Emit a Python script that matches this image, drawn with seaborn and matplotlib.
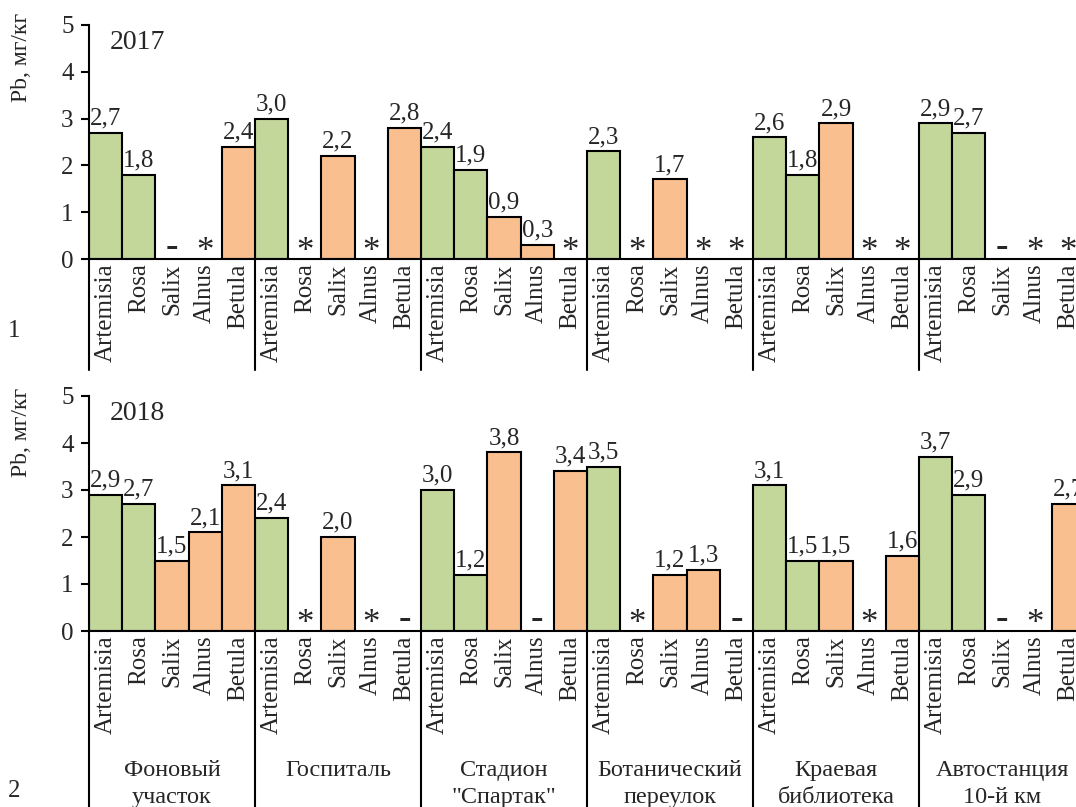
import matplotlib
matplotlib.use("Agg")
import matplotlib.pyplot as plt
import matplotlib.transforms as mtransforms
import numpy as np
import pandas as pd
import seaborn as sns

# Sampling sites and species
sites = ["Фоновый\nучасток", "Госпиталь", "Стадион\n\"Спартак\"",
         "Ботанический\nпереулок", "Краевая\nбиблиотека", "Автостанция\n10-й км"]
species = ["Artemisia", "Rosa", "Salix", "Alnus", "Betula"]
species_type = ["herb", "herb", "tree", "tree", "tree"]

# Pb content, mg/kg ('*' and '-' mark samples without a measured value)
pb_2017 = [2.7, 1.8, "-", "*", 2.4,
           3.0, "*", 2.2, "*", 2.8,
           2.4, 1.9, 0.9, 0.3, "*",
           2.3, "*", 1.7, "*", "*",
           2.6, 1.8, 2.9, "*", "*",
           2.9, 2.7, "-", "*", "*"]
pb_2018 = [2.9, 2.7, 1.5, 2.1, 3.1,
           2.4, "*", 2.0, "*", "-",
           3.0, 1.2, 3.8, "-", 3.4,
           3.5, "*", 1.2, 1.3, "-",
           3.1, 1.5, 1.5, "*", 1.6,
           3.7, 2.9, "-", "*", 2.7]

years = ["2017", "2018"]
panel_numbers = ["1", "2"]
ylabel = "Pb, мг/кг"

palette = {"herb": "#C4D79B", "tree": "#FABF8F"}

sns.set_theme(style="white")
plt.rcParams["font.family"] = ["Liberation Serif", "DejaVu Serif"]
plt.rcParams["axes.linewidth"] = 1.5

W, H = 1076, 807
fig = plt.figure(figsize=(W / 100, H / 100), dpi=100)

n_sites = len(sites)
n_sp = len(species)
n = n_sites * n_sp

# panel geometry in pixels: (y of zero line, y of value 5, separator bottom, ylabel y)
panels = [(259, 25, 370, 0.86), (631, 396, 830, 0.847)]
x_left, x_right = 89, 1085

for p, (vals, year, (y0, y5, ysep, ylab_y)) in enumerate(zip([pb_2017, pb_2018], years, panels)):
    ax = fig.add_axes([x_left / W, 1 - y0 / H, (x_right - x_left) / W, (y0 - y5) / H])

    rows = []
    for i, v in enumerate(vals):
        rows.append({
            "pos": i,
            "value": v if not isinstance(v, str) else np.nan,
            "type": species_type[i % n_sp],
        })
    df = pd.DataFrame(rows)
    sns.barplot(data=df.dropna(), x="pos", y="value", hue="type", order=list(range(n)),
                palette=palette, saturation=1, dodge=False, width=1.0,
                edgecolor="black", linewidth=1.5, errorbar=None, legend=False, ax=ax)

    ax.set_xlim(-0.5, n - 0.5)
    ax.set_ylim(0, 5)
    ax.set_yticks(range(6))
    ax.tick_params(axis="y", which="major", left=True, length=6, width=1.5,
                   direction="out", labelsize=18, pad=5, color="black")
    ax.set_xticks(range(n))
    ax.set_xticklabels(species * n_sites, rotation=90, fontsize=18)
    ax.tick_params(axis="x", length=0, pad=3)
    ax.set_xlabel("")
    ax.set_ylabel("")
    for s in ["top", "right"]:
        ax.spines[s].set_visible(False)
    for s in ["left", "bottom"]:
        ax.spines[s].set_color("black")
    ax.set_facecolor("none")

    # value labels and markers
    for i, v in enumerate(vals):
        if isinstance(v, str):
            if v == "*":
                ax.text(i, -0.05, "*", ha="center", va="baseline", fontsize=25,
                        clip_on=False)
            else:
                ax.text(i, 0.06, "-", ha="center", va="baseline", fontsize=27,
                        fontweight="bold")
        else:
            ax.text(i, v + 0.07, f"{v:.1f}".replace(".", ","), ha="center",
                    va="bottom", fontsize=18)

    # separators between sites
    trans = mtransforms.blended_transform_factory(ax.transData, ax.transAxes)
    sep_frac = -(ysep - y0) / (y0 - y5)
    for k in range(n_sites):
        xb = k * n_sp - 0.5
        ax.plot([xb, xb], [0, sep_frac], transform=trans, color="black",
                lw=1.5, clip_on=False)

    ax.text((110 - x_left) / (x_right - x_left), 0.925, year, transform=ax.transAxes,
            ha="left", va="center", fontsize=20)
    ax.text(-(89 - 22) / (x_right - x_left), ylab_y, ylabel, transform=ax.transAxes,
            rotation=90, ha="center", va="center", fontsize=17)

    fig.text(14 / W, 1 - (331 if p == 0 else 791) / H, panel_numbers[p],
             ha="center", va="center", fontsize=18)

    if p == 1:
        top_frac = -(760 - y0) / (y0 - y5)
        for k, name in enumerate(sites):
            ax.text(k * n_sp + (n_sp - 1) / 2, top_frac, name, transform=trans,
                    ha="center", va="top", fontsize=17.5, linespacing=1.35)

fig.savefig("out.png", dpi=100)
